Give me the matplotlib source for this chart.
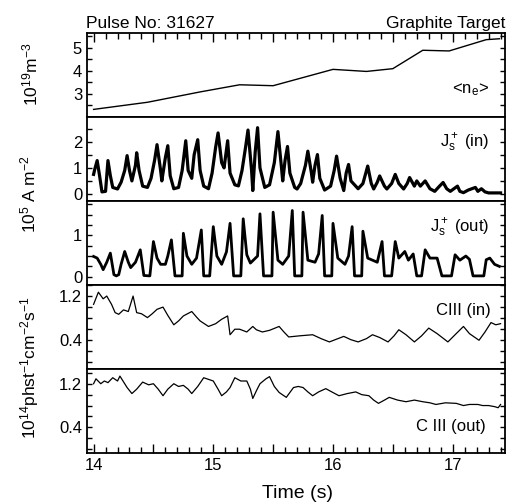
import numpy as np
import matplotlib
matplotlib.use("Agg")
import matplotlib.pyplot as plt
from matplotlib.ticker import MultipleLocator

plt.rcParams['font.family'] = ['Liberation Sans', 'DejaVu Sans']
plt.rcParams['mathtext.fontset'] = 'custom'
plt.rcParams['mathtext.rm'] = 'Liberation Sans'
plt.rcParams['mathtext.it'] = 'Liberation Sans'
plt.rcParams['mathtext.default'] = 'regular'

# ---------------- data ----------------
ne_t = [14.00, 14.45, 14.89, 15.22, 15.50, 16.00, 16.28, 16.50, 16.75, 16.97, 17.28, 17.39]
ne_v = [2.33, 2.64, 3.09, 3.40, 3.36, 4.07, 3.98, 4.10, 4.90, 4.87, 5.36, 5.40]

jin_t = [14.00, 14.01, 14.03, 14.05, 14.07, 14.10, 14.12, 14.14, 14.16, 14.20, 14.23, 14.26,
         14.28, 14.30, 14.32, 14.35, 14.36, 14.38, 14.41, 14.45, 14.48, 14.51, 14.53, 14.56,
         14.57, 14.60, 14.62, 14.64, 14.67, 14.71, 14.74, 14.77, 14.79, 14.82, 14.84, 14.87,
         14.89, 14.92, 14.96, 14.99, 15.02, 15.04, 15.07, 15.09, 15.12, 15.14, 15.18, 15.21,
         15.24, 15.27, 15.29, 15.32, 15.33, 15.35, 15.37, 15.39, 15.43, 15.47, 15.51, 15.54,
         15.57, 15.58, 15.60, 15.62, 15.64, 15.68, 15.70, 15.73, 15.77, 15.79, 15.82, 15.83,
         15.85, 15.87, 15.89, 15.93, 15.98, 16.01, 16.03, 16.06, 16.09, 16.11, 16.13, 16.15,
         16.21, 16.25, 16.28, 16.29, 16.32, 16.34, 16.37, 16.39, 16.43, 16.45, 16.49, 16.52,
         16.55, 16.59, 16.62, 16.64, 16.68, 16.70, 16.73, 16.77, 16.81, 16.85, 16.89, 16.92,
         16.95, 16.98, 17.01, 17.04, 17.06, 17.09, 17.13, 17.16, 17.19, 17.21, 17.24, 17.27,
         17.30, 17.40]
jin_v = [0.75, 0.95, 1.28, 0.70, 0.08, 0.10, 1.28, 0.70, 0.25, 0.19, 0.45, 0.90,
         1.47, 0.90, 0.50, 1.10, 1.58, 0.90, 0.30, 0.25, 0.60, 1.30, 1.89, 0.90,
         0.50, 1.40, 1.85, 0.70, 0.20, 0.25, 0.90, 2.04, 0.90, 0.60, 1.50, 2.08,
         0.90, 0.30, 0.20, 0.80, 1.80, 2.34, 1.20, 1.00, 2.04, 0.80, 0.35, 0.31,
         0.90, 1.80, 2.45, 0.90, 0.13, 1.60, 2.54, 1.00, 0.25, 0.35, 1.20, 2.39,
         1.00, 0.50, 1.30, 1.82, 0.80, 0.25, 0.19, 0.40, 1.10, 1.64, 0.80, 0.45,
         1.10, 1.51, 0.60, 0.15, 0.30, 0.90, 1.45, 0.60, 0.13, 0.80, 1.13, 0.50,
         0.20, 0.40, 0.90, 1.07, 0.40, 0.19, 0.45, 0.69, 0.30, 0.19, 0.40, 0.75,
         0.40, 0.19, 0.40, 0.63, 0.30, 0.50, 0.30, 0.50, 0.20, 0.10, 0.30, 0.44,
         0.20, 0.10, 0.20, 0.30, 0.10, 0.05, 0.15, 0.20, 0.25, 0.10, 0.20, 0.08,
         0.04, 0.04]

jout_t = [14.00, 14.03, 14.06, 14.08, 14.11, 14.14, 14.17, 14.19, 14.21, 14.23, 14.26, 14.29,
          14.31, 14.35, 14.39, 14.42, 14.47, 14.50, 14.53, 14.56, 14.60, 14.62, 14.65, 14.68,
          14.74, 14.75, 14.78, 14.82, 14.86, 14.90, 14.92, 14.97, 15.00, 15.03, 15.07, 15.11,
          15.14, 15.17, 15.23, 15.25, 15.28, 15.31, 15.37, 15.39, 15.42, 15.49, 15.50, 15.54,
          15.58, 15.63, 15.66, 15.68, 15.74, 15.75, 15.79, 15.85, 15.88, 15.91, 15.93, 15.99,
          16.00, 16.04, 16.10, 16.13, 16.16, 16.18, 16.24, 16.25, 16.29, 16.37, 16.39, 16.41,
          16.43, 16.49, 16.52, 16.55, 16.60, 16.63, 16.67, 16.70, 16.74, 16.77, 16.81, 16.87,
          16.91, 16.99, 17.02, 17.06, 17.11, 17.14, 17.17, 17.26, 17.28, 17.31, 17.35, 17.39]
jout_v = [0.49, 0.45, 0.30, 0.17, 0.35, 0.57, 0.05, 0.02, 0.05, 0.30, 0.61, 0.35,
          0.22, 0.35, 0.65, 0.03, 0.02, 0.85, 0.45, 0.30, 0.30, 0.50, 0.89, 0.02,
          0.02, 1.05, 0.50, 0.30, 0.45, 1.13, 0.02, 0.02, 1.21, 0.50, 0.30, 0.60,
          1.29, 0.02, 0.02, 1.40, 0.53, 0.33, 0.50, 1.52, 0.02, 0.02, 1.56, 0.40,
          0.30, 0.50, 1.60, 0.02, 0.02, 1.56, 0.40, 0.35, 0.55, 1.48, 0.02, 0.02,
          1.29, 0.45, 0.30, 0.50, 1.21, 0.02, 0.02, 1.10, 0.45, 0.35, 0.60, 0.85,
          0.02, 0.02, 0.85, 0.45, 0.61, 0.40, 0.55, 0.02, 0.02, 0.65, 0.45, 0.45,
          0.02, 0.02, 0.53, 0.40, 0.50, 0.42, 0.02, 0.02, 0.41, 0.45, 0.30, 0.25]

cin_t = [14.00, 14.04, 14.08, 14.11, 14.15, 14.18, 14.21, 14.25, 14.29, 14.33, 14.36, 14.40,
         14.45, 14.49, 14.53, 14.58, 14.62, 14.67, 14.71, 14.75, 14.82, 14.86, 14.89, 14.96,
         15.02, 15.07, 15.12, 15.14, 15.18, 15.22, 15.28, 15.33, 15.36, 15.41, 15.47, 15.55,
         15.59, 15.63, 15.72, 15.83, 15.90, 15.97, 16.03, 16.09, 16.15, 16.21, 16.28, 16.33,
         16.39, 16.46, 16.51, 16.55, 16.61, 16.68, 16.74, 16.80, 16.87, 16.96, 17.02, 17.09,
         17.14, 17.22, 17.27, 17.32, 17.36, 17.40]
cin_v = [1.05, 1.27, 1.15, 1.20, 1.05, 0.90, 0.87, 0.95, 0.92, 1.20, 0.90, 0.88,
         0.81, 0.88, 0.96, 1.00, 0.85, 0.68, 0.75, 0.84, 0.92, 0.82, 0.75, 0.65,
         0.70, 0.78, 0.84, 0.50, 0.60, 0.60, 0.55, 0.65, 0.59, 0.55, 0.58, 0.65,
         0.55, 0.46, 0.48, 0.50, 0.43, 0.37, 0.42, 0.47, 0.41, 0.37, 0.43, 0.50,
         0.45, 0.37, 0.48, 0.59, 0.50, 0.37, 0.48, 0.62, 0.52, 0.37, 0.50, 0.65,
         0.52, 0.40, 0.55, 0.72, 0.68, 0.70]

cout_t = [14.00, 14.02, 14.06, 14.09, 14.12, 14.16, 14.20, 14.22, 14.26, 14.28, 14.32, 14.36,
          14.41, 14.46, 14.50, 14.54, 14.58, 14.62, 14.67, 14.71, 14.75, 14.79, 14.82, 14.87,
          14.92, 14.96, 15.00, 15.04, 15.07, 15.11, 15.14, 15.18, 15.23, 15.28, 15.31, 15.33,
          15.36, 15.39, 15.44, 15.47, 15.51, 15.55, 15.61, 15.67, 15.71, 15.75, 15.79, 15.83,
          15.88, 15.94, 15.99, 16.05, 16.12, 16.19, 16.24, 16.30, 16.34, 16.38, 16.43, 16.47,
          16.54, 16.61, 16.68, 16.75, 16.81, 16.86, 16.94, 17.03, 17.09, 17.14, 17.21, 17.25,
          17.30, 17.35, 17.38, 17.40]
cout_v = [1.20, 1.29, 1.20, 1.25, 1.22, 1.31, 1.25, 1.34, 1.20, 1.13, 1.02, 1.10,
          1.23, 1.18, 1.20, 1.10, 0.98, 1.10, 1.20, 1.15, 1.17, 1.10, 1.02, 1.15,
          1.31, 1.28, 1.25, 1.10, 0.98, 1.05, 1.13, 1.31, 1.25, 1.25, 1.10, 0.93,
          1.07, 1.20, 1.29, 1.33, 1.15, 1.04, 0.95, 1.13, 1.15, 1.13, 1.05, 0.98,
          1.05, 1.11, 1.05, 0.98, 1.02, 1.05, 1.00, 0.98, 0.90, 0.84, 0.90, 0.95,
          0.90, 0.87, 0.90, 0.87, 0.85, 0.82, 0.85, 0.84, 0.80, 0.82, 0.82, 0.80,
          0.80, 0.78, 0.76, 0.82]

series = [
    (ne_t, ne_v, (2.0, 5.65), [3, 4, 5], ['3', '4', '5'], 0.5, 1.0, r'<n$_e$>'),
    (jin_t, jin_v, (-0.27, 2.95), [0, 1, 2], ['0', '1', '2'], 0.5, 2.3, r'J$_s^+$ (in)'),
    (jout_t, jout_v, (-0.2, 1.83), [0, 1], ['0', '1'], 0.25, 2.0, r'J$_s^+$ (out)'),
    (cin_t, cin_v, (-0.12, 1.4), [0.4, 1.2], ['0.4', '1.2'], 0.2, 0.9, 'CIII (in)'),
    (cout_t, cout_v, (-0.07, 1.47), [0.4, 1.2], ['0.4', '1.2'], 0.2, 0.9, 'C III (out)'),
]
label_y = [90, 143, 228, 310, 427]
label_x = [489, 489, 489, 491, 486]

W, H = 512, 504
fig = plt.figure(figsize=(W / 100, H / 100), dpi=100)
left, right, top, bottom = 87, 505, 33, 453
ph = (bottom - top) / 5

for i, (t, v, ylim, yt, ytl, ymin, lw, lab) in enumerate(series):
    y0 = top + i * ph
    ax = fig.add_axes([left / W, 1 - (y0 + ph) / H, (right - left) / W, ph / H])
    ax.plot(t, v, color='black', lw=lw, solid_joinstyle='round')
    ax.set_xlim(13.945, 17.437)
    ax.set_ylim(*ylim)
    ax.set_yticks(yt)
    ax.set_yticklabels(ytl)
    ax.yaxis.set_minor_locator(MultipleLocator(ymin))
    ax.set_xticks(np.arange(14, 17.01, 0.5))
    ax.set_xticklabels(['14', '', '15', '', '16', '', '17'])
    ax.xaxis.set_minor_locator(MultipleLocator(0.1))
    ax.tick_params(axis='both', which='both', direction='in', labelsize=12,
                   left=True, right=True, top=(i == 0), bottom=(i == 4),
                   labelbottom=(i == 4), width=1.0, pad=3.5)
    ax.tick_params(axis='x', which='major', length=6.5)
    ax.tick_params(axis='x', which='minor', length=4.3)
    ax.tick_params(axis='y', which='both', length=3.5)
    for s in ax.spines.values():
        s.set_linewidth(1.3)
    fig.text(label_x[i] / W, 1 - label_y[i] / H, lab, ha='right', va='center', fontsize=12)

fig.text(86 / W, 1 - 28 / H, 'Pulse No: 31627', ha='left', va='baseline', fontsize=12.5)
fig.text(505 / W, 1 - 28 / H, 'Graphite Target', ha='right', va='baseline', fontsize=12.5)

fig.text(30 / W, 1 - 74 / H, r'10$^{19}$m$^{-3}$', rotation=90, ha='center', va='center', fontsize=12.5)
fig.text(28 / W, 1 - 194 / H, r'10$^5$ A m$^{-2}$', rotation=90, ha='center', va='center', fontsize=12.5)
fig.text(30 / W, 1 - 368 / H, r'10$^{14}$phst$^{-1}$cm$^{-2}$s$^{-1}$', rotation=90,
         ha='center', va='center', fontsize=12.5)
fig.text(298 / W, 1 - 493 / H, 'Time (s)', ha='center', va='center', fontsize=14)

fig.savefig('out.png', dpi=100, facecolor='white')
